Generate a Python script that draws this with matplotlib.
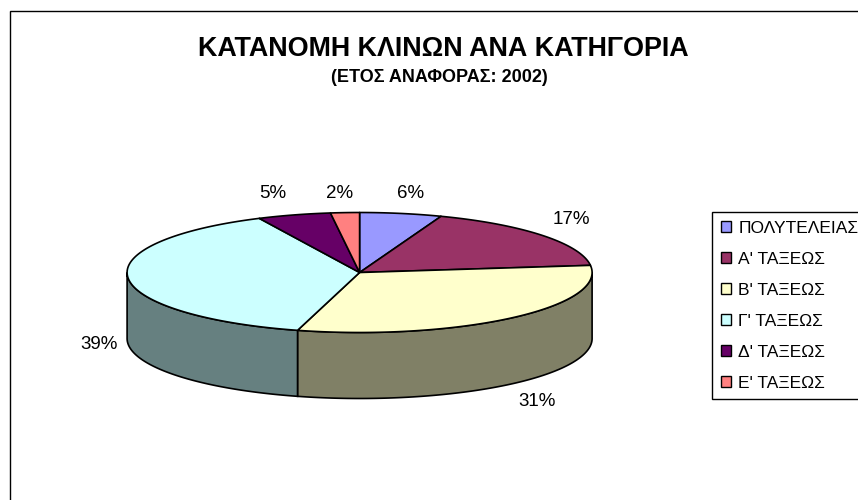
import numpy as np
import matplotlib
matplotlib.use("Agg")
import matplotlib.pyplot as plt
from matplotlib.patches import Polygon, Rectangle

plt.rcParams['font.family'] = ['Liberation Sans', 'DejaVu Sans']

title = "ΚΑΤΑΝΟΜΗ ΚΛΙΝΩΝ ΑΝΑ ΚΑΤΗΓΟΡΙΑ"
subtitle = "(ΕΤΟΣ ΑΝΑΦΟΡΑΣ: 2002)"
categories = ["ΠΟΛΥΤΕΛΕΙΑΣ", "Α' ΤΑΞΕΩΣ", "Β' ΤΑΞΕΩΣ", "Γ' ΤΑΞΕΩΣ", "Δ' ΤΑΞΕΩΣ", "Ε' ΤΑΞΕΩΣ"]
shares = [5.7, 17.4, 31.2, 38.6, 5.1, 2.0]
colors = ['#9999FF', '#993366', '#FFFFCC', '#CCFFFF', '#660066', '#FF8080']
wall_colors = ['#4C4C80', '#4C1A33', '#808066', '#668080', '#330033', '#804040']

# pie geometry, in pixels
cx, cy = 359.6, 272.5
rx, ry = 232.5, 60.0
depth = 66.0
# label anchors outside of the slices (offset from centre, pixels)
label_offsets = [(51, -79), (212, -53), (177, 129), (-261, 72), (-87, -79), (-20, -79)]


def rim(a0, a1, dz=0.0):
    # angles in degrees, clockwise from the top of the ellipse
    t = np.radians(np.linspace(a0, a1, max(int(abs(a1 - a0)) * 2, 2)))
    return np.column_stack([cx + rx * np.sin(t), cy - ry * np.cos(t) + dz])


fig = plt.figure(figsize=(8.58, 5.0), dpi=100)
ax = fig.add_axes([0, 0, 1, 1])
ax.set_xlim(0, 858)
ax.set_ylim(500, 0)
ax.axis('off')

# chart frame runs off the right and bottom of the picture
ax.plot([9.5, 9.5, 870], [510, 11, 11], color='black', lw=1.0, solid_joinstyle='miter')

edges = np.concatenate([[0], np.cumsum(shares)]) / sum(shares) * 360

# side walls (only the front half is visible)
for i in range(len(shares)):
    a0, a1 = max(edges[i], 90), min(edges[i + 1], 270)
    if a1 <= a0:
        continue
    top = rim(a0, a1)
    bottom = rim(a0, a1, depth)[::-1]
    ax.add_patch(Polygon(np.vstack([top, bottom]), closed=True, facecolor=wall_colors[i],
                         edgecolor='black', lw=1.2, zorder=2))

# top faces
for i in range(len(shares)):
    pts = np.vstack([[cx, cy], rim(edges[i], edges[i + 1])])
    ax.add_patch(Polygon(pts, closed=True, facecolor=colors[i], edgecolor='black',
                         lw=1.2, joinstyle='round', zorder=3))

for share, (dx, dy) in zip(shares, label_offsets):
    ax.text(cx + dx, cy + dy, f"{share:.0f}%", fontsize=13.5, ha='center', va='center', color='black')

ax.text(443, 49, title, fontsize=19.4, fontweight='bold', ha='center', va='center')
ax.text(439, 78, subtitle, fontsize=13, fontweight='bold', ha='center', va='center')

handles = [Rectangle((0, 0), 1, 1, facecolor=c, edgecolor='black', lw=1.0) for c in colors]
leg = ax.legend(handles, categories, loc='upper left', bbox_to_anchor=(712 / 858, 1 - 212 / 500),
                bbox_transform=fig.transFigure, borderaxespad=0, fontsize=12.5,
                handlelength=0.61, handleheight=0.61, handletextpad=0.4,
                labelspacing=0.92, borderpad=0.5, fancybox=False, framealpha=1,
                edgecolor='black')
leg.get_frame().set_linewidth(1.0)

fig.savefig("out.png", dpi=100)
